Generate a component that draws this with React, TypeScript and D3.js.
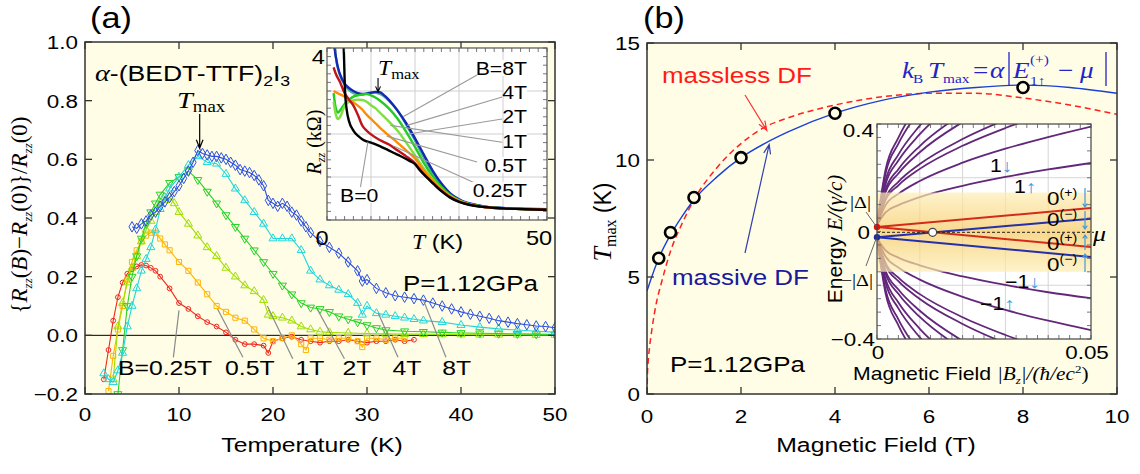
import * as d3 from 'd3';

const SANS = '"Liberation Sans", Arial, Helvetica, sans-serif';
const SERIF = '"Liberation Serif", "Times New Roman", serif';
const CREAM = '#fffde6';
const SX = 1.18; // lettering in the figure is drawn a little wide

// ---- (a) main: {R(B)-R(0)}/R(0) vs temperature, [T (K), value] ----
const dr025 = [[2,-0.15],[2.5,-0.05],[3,0.05],[3.5,0.13],[4,0.18],[4.5,0.21],[5,0.225],[5.5,0.235],[6,0.24],[6.5,0.238],[7,0.23],[7.5,0.22],[8,0.2],[9,0.16],[10,0.11],[11,0.09],[12,0.065],[13,0.045],[14,0.03],[15,0.01],[16,-0.015],[17,-0.03],[18,-0.03],[19,-0.035],[19.5,-0.06],[20,-0.02],[21,-0.01],[22,-0.005],[23,-0.015],[24,-0.02],[25,-0.025],[26,-0.02],[27,-0.02],[28,-0.015],[29,-0.02],[30,-0.025],[31,-0.02],[32,-0.02],[33,-0.015],[34,-0.02],[35,-0.015]];
const dr05 = [[2.5,-0.19],[3,-0.07],[3.5,0.02],[4,0.1],[4.5,0.19],[5,0.25],[5.5,0.29],[6,0.32],[6.5,0.34],[7,0.35],[7.5,0.35],[8,0.33],[8.5,0.31],[9,0.29],[10,0.25],[11,0.22],[12,0.18],[13,0.14],[14,0.1],[15,0.08],[16,0.06],[17,0.05],[18,0.02],[19,-0.01],[20,-0.02],[21,-0.01],[22,0],[23,-0.03],[23.5,-0.05],[24,-0.01],[25,-0.01],[26,-0.015],[27,-0.01],[28,-0.01],[29,-0.02],[29.5,-0.04],[30,-0.01],[31,-0.01],[32,-0.015],[33,-0.01],[34,-0.01]];
const dr1 = [[3,-0.15],[3.5,0.03],[4,0.11],[4.5,0.18],[5,0.23],[5.5,0.27],[6,0.32],[6.5,0.36],[7,0.39],[7.5,0.42],[8,0.45],[8.5,0.46],[9,0.47],[9.5,0.45],[10,0.42],[11,0.38],[12,0.34],[13,0.3],[14,0.27],[15,0.23],[16,0.2],[17,0.17],[18,0.15],[19,0.12],[19.5,0.07],[20,0.065],[21,0.06],[22,0.05],[23,0.03],[24,0.02],[25,0.012],[26,0.01],[28,0.008],[30,0.006],[32,0.005],[34,0.004],[36,0.004],[38,0.003],[40,0.003],[42,0.002],[44,0.002],[46,0.002],[48,0.001],[50,0.001]];
const dr2 = [[3.5,-0.2],[4,-0.05],[4.5,0.1],[5,0.2],[5.5,0.27],[6,0.33],[6.5,0.38],[7,0.42],[7.5,0.45],[8,0.48],[9,0.52],[10,0.54],[11,0.56],[12,0.53],[13,0.49],[14,0.45],[15,0.41],[16,0.37],[17,0.33],[18,0.29],[19,0.25],[20,0.21],[21,0.17],[22,0.14],[23,0.11],[24,0.095],[25,0.09],[26,0.08],[27,0.065],[28,0.055],[29,0.045],[30,0.035],[31,0.025],[32,0.018],[34,0.014],[36,0.012],[38,0.01],[40,0.008],[42,0.007],[44,0.006],[46,0.005],[48,0.004],[50,0.003]];
const dr4 = [[2,-0.13],[2.5,-0.15],[3,-0.16],[3.5,-0.12],[4,-0.06],[4.5,0.03],[5,0.1],[5.5,0.16],[6,0.22],[6.5,0.26],[7,0.3],[7.5,0.36],[8,0.43],[8.5,0.47],[9,0.5],[10,0.54],[11,0.58],[12,0.61],[13,0.59],[14,0.585],[15,0.55],[16,0.5],[17,0.46],[18,0.42],[19,0.38],[20,0.33],[21,0.33],[22,0.33],[23,0.29],[24,0.22],[25,0.19],[26,0.17],[27,0.155],[28,0.14],[29,0.11],[29.5,0.07],[30,0.1],[31,0.075],[32,0.07],[33,0.065],[34,0.06],[35,0.055],[36,0.05],[38,0.045],[40,0.035],[42,0.028],[44,0.022],[46,0.018],[48,0.014],[50,0.011]];
const dr8 = [[5,0.37],[5.5,0.365],[6,0.38],[6.5,0.39],[7,0.41],[7.5,0.42],[8,0.44],[8.5,0.455],[9,0.47],[9.5,0.49],[10,0.51],[10.5,0.535],[11,0.56],[11.5,0.59],[12,0.63],[12.5,0.62],[13,0.615],[13.5,0.61],[14,0.61],[14.5,0.605],[15,0.6],[15.5,0.59],[16,0.58],[16.5,0.565],[17,0.56],[17.5,0.555],[18,0.545],[18.5,0.53],[19,0.51],[19.5,0.46],[20,0.45],[20.5,0.44],[21,0.45],[21.5,0.44],[22,0.42],[22.5,0.41],[23,0.39],[23.5,0.37],[24,0.35],[25,0.32],[26,0.3],[27,0.28],[28,0.25],[29,0.22],[29.5,0.185],[30,0.19],[31,0.16],[32,0.145],[33,0.135],[34,0.13],[35,0.125],[36,0.12],[37,0.11],[38,0.1],[39,0.09],[40,0.08],[41,0.072],[42,0.065],[43,0.058],[44,0.05],[45,0.045],[46,0.04],[47,0.036],[48,0.032],[49,0.03],[50,0.026]];

const labelsA = ['B=0.25T', '0.5T', '1T', '2T', '4T', '8T'];
const labelTA = [3.5, 14.9, 22.4, 27.4, 32.7, 38];
const leaderFromA = [[9.4,-0.075],[16.8,-0.075],[22.1,-0.08],[27.6,-0.08],[33.3,-0.075],[38.4,-0.075]];
const leaderToA = [[10,0.085],[14.1,0.09],[19.4,0.1],[24.7,0.09],[31.2,0.075],[36,0.12]];

// ---- (a) inset: R_zz (kOhm) vs T ----
const rB0 = [[3.6,4.4],[3.8,4.0],[4.1,3.0],[4.5,2.55],[5,2.3],[6,2.08],[7,1.96],[8,1.88],[9,1.83],[10,1.8],[12,1.72],[14,1.62],[16,1.52],[18,1.42],[19,1.36],[20,1.3],[21,1.17],[22,1.06],[23,0.96],[24,0.86],[25,0.76],[26,0.67],[27,0.59],[28,0.52],[30,0.42],[32,0.36],[35,0.31],[40,0.27],[45,0.25],[50,0.24]];
const rB025 = [[1.5,3.55],[2,3.4],[3,3.2],[4,2.95],[5,2.8],[6,2.66],[7,2.45],[8,2.2],[9,2.08],[10,1.99],[12,1.86],[14,1.76],[16,1.62],[18,1.48],[20,1.32],[22,1.07],[24,0.87],[26,0.68],[28,0.53],[30,0.43],[35,0.31],[40,0.27],[50,0.24]];
const rB05 = [[1.5,3.0],[2,2.97],[3,2.92],[4,2.87],[5,2.8],[6,2.73],[7,2.66],[8,2.57],[9,2.45],[10,2.35],[11,2.25],[12,2.15],[14,1.97],[16,1.8],[18,1.62],[20,1.43],[22,1.15],[24,0.92],[26,0.71],[28,0.55],[30,0.44],[35,0.31],[40,0.27],[50,0.24]];
const rB1 = [[1.5,2.75],[2,2.45],[2.5,2.35],[3,2.4],[4,2.65],[5,2.75],[6,2.78],[7,2.8],[8,2.79],[9,2.75],[10,2.67],[11,2.6],[12,2.5],[14,2.3],[16,2.08],[18,1.8],[20,1.5],[22,1.2],[24,0.95],[26,0.72],[28,0.56],[30,0.45],[35,0.31],[40,0.27],[50,0.24]];
const rB2 = [[1.5,2.95],[2,2.6],[2.5,2.5],[3,2.55],[4,2.7],[5,2.8],[6,2.87],[7,2.9],[8,2.92],[9,2.93],[10,2.9],[11,2.85],[12,2.78],[14,2.6],[16,2.36],[18,2.05],[20,1.7],[22,1.33],[24,1.02],[26,0.77],[28,0.58],[30,0.46],[35,0.32],[40,0.27],[50,0.24]];
const rB4 = [[1.5,4.3],[2,3.8],[3,3.35],[4,3.15],[5,3.02],[6,2.95],[7,2.92],[8,2.92],[9,2.94],[10,2.96],[11,2.96],[12,2.93],[13,2.87],[14,2.78],[16,2.55],[18,2.22],[20,1.85],[22,1.45],[24,1.1],[26,0.82],[28,0.6],[30,0.47],[35,0.32],[40,0.27],[50,0.24]];
const rB8 = [[1.2,4.5],[1.5,4.2],[2,3.8],[2.6,3.5],[3,3.38],[4,3.17],[5,3.07],[6,3.0],[7,2.95],[8,2.93],[9,2.94],[10,2.96],[11,2.98],[12,2.97],[13,2.9],[14,2.8],[15,2.68],[16,2.55],[18,2.25],[20,1.9],[22,1.52],[24,1.15],[26,0.85],[28,0.62],[30,0.48],[35,0.33],[40,0.28],[50,0.25]];

const insetLabels = ['B=8T', '4T', '2T', '1T', '0.5T', '0.25T', 'B=0'];
const insetLeaderFrom = [[34.1,3.37],[39.8,2.86],[39.8,2.35],[39.8,1.81],[34.1,1.35],[33.6,0.86],[7.5,0.7]];
const insetLeaderTo = [[17.3,2.4],[18.2,2.2],[18.5,2.0],[14.4,2.2],[13.6,1.95],[15.1,1.72],[9.3,1.82]];

// ---- (b) main: Tmax vs B ----
const fieldPts = [0.25, 0.5, 1, 2, 4, 8];
const tmaxPts = [5.8, 6.9, 8.4, 10.1, 12.0, 13.1];
const massiveField = [0, 0.1, 0.25, 0.5, 0.75, 1, 1.5, 2, 2.5, 3, 4, 5, 6, 7, 8, 9, 10];
const massiveT = [4.4, 5.0, 5.8, 6.8, 7.6, 8.3, 9.3, 10.1, 10.7, 11.2, 12.0, 12.55, 12.9, 13.1, 13.2, 13.1, 12.85];
const masslessField = [0, 0.01, 0.03, 0.06, 0.1, 0.2, 0.3, 0.5, 0.75, 1, 1.5, 2, 2.5, 3, 4, 5, 6, 7, 8, 9, 10];
const masslessT = [0, 0.85, 1.5, 2.1, 2.7, 3.9, 4.7, 6.1, 7.3, 8.3, 9.7, 10.7, 11.4, 11.8, 12.35, 12.7, 12.85, 12.85, 12.65, 12.35, 11.95];

// ---- (b) inset: Landau levels, energy at each field of llField ----
const llField = [0, 0.002, 0.005, 0.01, 0.02, 0.03, 0.04, 0.05];
const llUpper = [
  [0.025, 0.071, 0.098, 0.128, 0.17, 0.203, 0.231, 0.255],
  [0.025, 0.098, 0.14, 0.188, 0.256, 0.308, 0.351, 0.39],
  [0.025, 0.118, 0.172, 0.233, 0.319, 0.385, 0.441, 0.49],
  [0.025, 0.126, 0.185, 0.251, 0.344, 0.416, 0.476, 0.53],
  [0.025, 0.146, 0.216, 0.295, 0.407, 0.494, 0.566, 0.63],
  [0.025, 0.156, 0.232, 0.318, 0.439, 0.533, 0.611, 0.68],
  [0.025, 0.176, 0.264, 0.362, 0.502, 0.61, 0.7, 0.78],
  [0.025, 0.19, 0.286, 0.394, 0.546, 0.664, 0.763, 0.85],
  [0.025, 0.216, 0.327, 0.452, 0.629, 0.765, 0.879, 0.98],
  [0.025, 0.23, 0.349, 0.483, 0.673, 0.819, 0.941, 1.05],
];
const llLower = [
  [-0.025, -0.07, -0.097, -0.126, -0.167, -0.199, -0.226, -0.248],
  [-0.025, -0.093, -0.134, -0.179, -0.243, -0.292, -0.332, -0.367],
  [-0.025, -0.118, -0.172, -0.233, -0.319, -0.385, -0.441, -0.49],
  [-0.025, -0.126, -0.185, -0.251, -0.344, -0.416, -0.476, -0.53],
  [-0.025, -0.146, -0.216, -0.295, -0.407, -0.494, -0.566, -0.63],
  [-0.025, -0.156, -0.232, -0.318, -0.439, -0.533, -0.611, -0.68],
  [-0.025, -0.176, -0.264, -0.362, -0.502, -0.61, -0.7, -0.78],
  [-0.025, -0.19, -0.286, -0.394, -0.546, -0.664, -0.763, -0.85],
  [-0.025, -0.216, -0.327, -0.452, -0.629, -0.765, -0.879, -0.98],
  [-0.025, -0.23, -0.349, -0.483, -0.673, -0.819, -0.941, -1.05],
];
const zmField = [0, 0.05];
const zmPlusDown = [0.017, 0.087];
const zmMinusDown = [-0.021, 0.047];
const zmPlusUp = [0.017, -0.058];
const zmMinusUp = [-0.021, -0.095];
const crossing = [0.013, -0.003];
const muLevel = -0.003;
const bandRange = [-0.15, 0.145];

// ticks
const aTicksX = [0, 10, 20, 30, 40, 50];
const aTicksY = [-0.2, 0, 0.2, 0.4, 0.6, 0.8, 1.0];
const bTicksX = [0, 2, 4, 6, 8, 10];
const bTicksY = [0, 5, 10, 15];

// scales
const xA = d3.scaleLinear().domain([0, 50]).range([85, 555]);
const yA = d3.scaleLinear().domain([-0.2, 1.0]).range([394, 42]);
const xIa = d3.scaleLinear().domain([0, 50]).range([327, 547]);
const yIa = d3.scaleLinear().domain([0, 4]).range([220, 48]);
const xB = d3.scaleLinear().domain([0, 10]).range([647, 1117]);
const yB = d3.scaleLinear().domain([0, 15]).range([394, 43]);
const xIb = d3.scaleLinear().domain([0, 0.05]).range([877, 1091]);
const yIb = d3.scaleLinear().domain([-0.4, 0.4]).range([339, 124]);

const sym: Record<string, string> = {
  circle: d3.symbol(d3.symbolCircle, 18)() as string,
  square: d3.symbol(d3.symbolSquare, 26)() as string,
  triUp: d3.symbol(d3.symbolTriangle, 28)() as string,
  triDown: d3.symbol(d3.symbolTriangle, 28)() as string,
  diamond: d3.symbol(d3.symbolDiamond, 32)() as string,
};

const seriesA = [
  { data: dr025, color: '#f0281e', marker: 'circle' },
  { data: dr05, color: '#ffb400', marker: 'square' },
  { data: dr1, color: '#9ee000', marker: 'triUp' },
  { data: dr2, color: '#28d228', marker: 'triDown' },
  { data: dr4, color: '#20d6dc', marker: 'triUp' },
  { data: dr8, color: '#2c50e0', marker: 'diamond' },
];

const insetSeries = [
  { data: rB4, color: '#4fb39c' },
  { data: rB8, color: '#1428b4' },
  { data: rB2, color: '#22cc22' },
  { data: rB1, color: '#7ee040' },
  { data: rB05, color: '#ff8c00' },
  { data: rB025, color: '#c0141c' },
  { data: rB0, color: '#000000' },
];

function arrowPath(x1: number, y1: number, x2: number, y2: number, head = 8, spread = 0.42) {
  const a = Math.atan2(y2 - y1, x2 - x1);
  const p1 = [x2 - head * Math.cos(a - spread), y2 - head * Math.sin(a - spread)];
  const p2 = [x2 - head * Math.cos(a + spread), y2 - head * Math.sin(a + spread)];
  return `M${x1},${y1}L${x2},${y2}M${p1[0]},${p1[1]}L${x2},${y2}L${p2[0]},${p2[1]}`;
}

// stretched text helper
function Tx({ x, y, size = 19, anchor = 'start', fill = '#000', family = SANS, italic = false, children }: any) {
  return (
    <text transform={`translate(${x},${y}) scale(${SX},1)`} fontSize={size} textAnchor={anchor}
      fill={fill} fontFamily={family} fontStyle={italic ? 'italic' : 'normal'}>
      {children}
    </text>
  );
}

export default function App() {
  const lineA = d3.line<number[]>().x(d => xA(d[0])).y(d => yA(d[1]));
  const lineIa = d3.line<number[]>().x(d => xIa(d[0])).y(d => yIa(d[1])).curve(d3.curveMonotoneX);
  const lineB = d3.line<number[]>().x(d => xB(d[0])).y(d => yB(d[1])).curve(d3.curveMonotoneX);
  const lineLL = d3.line<number>().x((_, i) => xIb(llField[i])).y(d => yIb(d)).curve(d3.curveMonotoneX);
  const lineZM = d3.line<number>().x((_, i) => xIb(zmField[i])).y(d => yIb(d));
  const fmtA = d3.format('.1f');

  const massive = d3.zip(massiveField, massiveT);
  const massless = d3.zip(masslessField, masslessT);

  const iaGridX = [10, 20, 30, 40];
  const iaGridY = [1, 2, 3];
  const iaMinorX = d3.range(0, 51, 2);
  const iaMinorY = d3.range(0, 4.01, 0.2);
  const ibGridX = [0.01, 0.02, 0.03, 0.04];
  const ibGridY = [-0.2, 0.2];
  const ibMinorX = d3.range(0, 0.0501, 0.0025);
  const ibMinorY = d3.range(-0.4, 0.401, 0.05);
  const spinArrow = '#3d9be0';
  const blueF = '#2424c8';

  return (
    <svg width={1140} height={474} style={{ position: 'absolute', left: 0, top: 0, background: '#fff' }}>
      <defs>
        <clipPath id="clipA"><rect x={85} y={42} width={470} height={352} /></clipPath>
        <clipPath id="clipIa"><rect x={327} y={48} width={220} height={172} /></clipPath>
        <clipPath id="clipB"><rect x={647} y={43} width={470} height={351} /></clipPath>
        <clipPath id="clipIb"><rect x={877} y={124} width={214} height={215} /></clipPath>
        <linearGradient id="band" x1="0" y1="0" x2="0" y2="1">
          <stop offset="0%" stopColor="#fdeeb4" />
          <stop offset="50%" stopColor="#f6c85e" />
          <stop offset="100%" stopColor="#fdeeb4" />
        </linearGradient>
      </defs>

      {/* ================= panel (a) ================= */}
      <rect x={85} y={42} width={470} height={352} fill={CREAM} />
      <line x1={85} x2={555} y1={yA(0)} y2={yA(0)} stroke="#000" strokeWidth={1} />
      <g clipPath="url(#clipA)">
        {seriesA.map((s, k) => (
          <g key={k}>
            <path d={lineA(s.data as any) as string} fill="none" stroke={s.color} strokeWidth={1.1} />
            {s.data.map((d, i) => (
              <path key={i} d={sym[s.marker]} fill="none" stroke={s.color} strokeWidth={1}
                transform={`translate(${xA(d[0])},${yA(d[1])})${s.marker === 'triDown' ? ' rotate(180)' : ''}`} />
            ))}
          </g>
        ))}
      </g>
      {/* field labels with leaders */}
      {labelsA.map((lab, i) => (
        <g key={lab}>
          <line x1={xA(leaderFromA[i][0])} y1={yA(leaderFromA[i][1])} x2={xA(leaderToA[i][0])} y2={yA(leaderToA[i][1])}
            stroke="#8a8a8a" strokeWidth={1.2} />
          <Tx x={xA(labelTA[i])} y={yA(-0.135)} size={21}>{lab}</Tx>
        </g>
      ))}
      <Tx x={403} y={291} size={22}>P=1.12GPa</Tx>
      <Tx x={95} y={81} size={22.5}>
        <tspan fontFamily={SERIF} fontStyle="italic" fontSize={24}>α</tspan>-(BEDT-TTF)
        <tspan fontSize={15} dy={5}>2</tspan><tspan dy={-5}>I</tspan><tspan fontSize={15} dy={5}>3</tspan>
      </Tx>
      <Tx x={177} y={108} size={24} family={SERIF} italic>T<tspan fontStyle="normal" fontSize={16} dy={4}>max</tspan></Tx>
      <path d={arrowPath(xA(12.2), 114, xA(12.2), yA(0.635) - 1, 9, 0.38)} fill="none" stroke="#000" strokeWidth={1.2} />

      {/* frame + ticks (a) */}
      <rect x={85} y={42} width={470} height={352} fill="none" stroke="#333" strokeWidth={1.5} />
      {aTicksX.map(t => (
        <g key={t}>
          <line x1={xA(t)} x2={xA(t)} y1={394} y2={387} stroke="#333" strokeWidth={1.3} />
          <line x1={xA(t)} x2={xA(t)} y1={42} y2={49} stroke="#333" strokeWidth={1.3} />
          <Tx x={xA(t)} y={421} size={19} anchor="middle">{t}</Tx>
        </g>
      ))}
      {aTicksY.map(v => (
        <g key={v}>
          <line x1={85} x2={92} y1={yA(v)} y2={yA(v)} stroke="#333" strokeWidth={1.3} />
          <line x1={555} x2={548} y1={yA(v)} y2={yA(v)} stroke="#333" strokeWidth={1.3} />
          <Tx x={78} y={yA(v) + 7} size={19} anchor="end">{fmtA(v)}</Tx>
        </g>
      ))}
      <Tx x={312} y={452} size={21} anchor="middle">Temperature<tspan dx={8}>(K)</tspan></Tx>
      <text transform="translate(27,215) rotate(-90)" textAnchor="middle" fontFamily={SERIF} fontSize={23}>
        {'{'}<tspan fontStyle="italic">R</tspan><tspan fontStyle="italic" fontSize={13} dy={5}>zz</tspan>
        <tspan dy={-5}>(</tspan><tspan fontStyle="italic">B</tspan>)−<tspan fontStyle="italic">R</tspan>
        <tspan fontStyle="italic" fontSize={13} dy={5}>zz</tspan><tspan dy={-5}>(0){'}'}/</tspan>
        <tspan fontStyle="italic">R</tspan><tspan fontStyle="italic" fontSize={13} dy={5}>zz</tspan>
        <tspan dy={-5}>(0)</tspan>
      </text>
      <Tx x={90} y={28} size={29}>(a)</Tx>

      {/* ---- inset (a) ---- */}
      <rect x={327} y={48} width={220} height={172} fill="#fff" />
      {iaGridX.map(t => <line key={t} x1={xIa(t)} x2={xIa(t)} y1={48} y2={220} stroke="#cfcfcf" strokeWidth={1} />)}
      {iaGridY.map(r => <line key={r} x1={327} x2={547} y1={yIa(r)} y2={yIa(r)} stroke="#cfcfcf" strokeWidth={1} />)}
      <g clipPath="url(#clipIa)">
        {insetSeries.map((s, k) => (
          <path key={k} d={lineIa(s.data as any) as string} fill="none" stroke={s.color} strokeWidth={2.4} />
        ))}
      </g>
      {insetLabels.map((lab, i) => (
        <line key={lab} x1={xIa(insetLeaderFrom[i][0])} y1={yIa(insetLeaderFrom[i][1])}
          x2={xIa(insetLeaderTo[i][0])} y2={yIa(insetLeaderTo[i][1])} stroke="#9a9a9a" strokeWidth={1.1} />
      ))}
      {insetLabels.slice(0, 6).map((lab, i) => (
        <g key={lab}>
          <rect x={527 - lab.length * 11.5} y={[60, 84, 108, 133, 157, 182][i]} width={lab.length * 11.5} height={16} fill="#fff" />
          <Tx x={527} y={[75, 99, 123, 148, 172, 197][i]} size={18} anchor="end">{lab}</Tx>
        </g>
      ))}
      <rect x={339} y={187} width={41} height={16} fill="#fff" />
      <Tx x={340} y={202} size={18}>{insetLabels[6]}</Tx>
      <Tx x={378} y={75} size={20} family={SERIF} italic>T<tspan fontStyle="normal" fontSize={14} dy={4}>max</tspan></Tx>
      <path d={arrowPath(xIa(11.6), 78, xIa(11.6), yIa(2.98), 6, 0.42)} fill="none" stroke="#000" strokeWidth={1.1} />
      <rect x={327} y={48} width={220} height={172} fill="none" stroke="#555" strokeWidth={1.2} />
      {iaMinorX.map(t => (
        <g key={t}>
          <line x1={xIa(t)} x2={xIa(t)} y1={220} y2={216} stroke="#555" strokeWidth={0.8} />
          <line x1={xIa(t)} x2={xIa(t)} y1={48} y2={52} stroke="#555" strokeWidth={0.8} />
        </g>
      ))}
      {iaMinorY.map(r => (
        <g key={r}>
          <line x1={327} x2={331} y1={yIa(r)} y2={yIa(r)} stroke="#555" strokeWidth={0.8} />
          <line x1={547} x2={543} y1={yIa(r)} y2={yIa(r)} stroke="#555" strokeWidth={0.8} />
        </g>
      ))}
      <Tx x={325} y={64} size={20} anchor="end">4</Tx>
      <Tx x={322} y={245} size={20} anchor="middle">0</Tx>
      <Tx x={539} y={245} size={20} anchor="middle">50</Tx>
      <Tx x={412} y={249} size={20} family={SERIF} italic>T<tspan fontFamily={SANS} fontStyle="normal"> (K)</tspan></Tx>
      <text transform="translate(321,142) rotate(-90)" textAnchor="middle" fontFamily={SERIF} fontSize={20}>
        <tspan fontStyle="italic">R</tspan><tspan fontStyle="italic" fontSize={12} dy={4}>zz</tspan>
        <tspan dy={-4}> (kΩ)</tspan>
      </text>

      {/* ================= panel (b) ================= */}
      <rect x={647} y={43} width={470} height={351} fill={CREAM} />
      <g clipPath="url(#clipB)">
        <path d={lineB(massless as any) as string} fill="none" stroke="#ff2020" strokeWidth={1.5} strokeDasharray="6,4" />
        <path d={lineB(massive as any) as string} fill="none" stroke="#1a40d8" strokeWidth={1.4} />
        {fieldPts.map((b, i) => (
          <circle key={b} cx={xB(b)} cy={yB(tmaxPts[i])} r={5.5} fill={CREAM} stroke="#000" strokeWidth={2.6} />
        ))}
      </g>
      <Tx x={662} y={83} size={22} fill="#ff1a1a">massless DF</Tx>
      <path d={arrowPath(745, 95, xB(2.55), yB(11.35) + 2, 10, 0.35)} fill="none" stroke="#ff3030" strokeWidth={1.2} />
      <Tx x={672} y={285} size={22} fill="#1a1a9c">massive DF</Tx>
      <path d={arrowPath(745, 253, xB(2.6), yB(10.75) + 2, 10, 0.35)} fill="none" stroke="#3040b0" strokeWidth={1.2} />
      <Tx x={670} y={372} size={22}>P=1.12GPa</Tx>

      {/* formula k_B T_max = alpha |E_1up^(+) - mu| */}
      <Tx x={902} y={78} size={23} family={SERIF} italic fill={blueF}>k</Tx>
      <Tx x={913} y={83} size={13} family={SERIF} fill={blueF}>B</Tx>
      <Tx x={928} y={78} size={23} family={SERIF} italic fill={blueF}>T</Tx>
      <Tx x={943} y={83} size={13} family={SERIF} fill={blueF}>max</Tx>
      <Tx x={973} y={78} size={23} family={SERIF} fill={blueF}>=</Tx>
      <Tx x={990} y={78} size={23} family={SERIF} italic fill={blueF}>α</Tx>
      <line x1={1009} x2={1009} y1={52} y2={86} stroke={blueF} strokeWidth={1.3} />
      <Tx x={1013} y={78} size={23} family={SERIF} italic fill={blueF}>E</Tx>
      <Tx x={1030} y={64} size={13} family={SERIF} fill={blueF}>(+)</Tx>
      <Tx x={1030} y={85} size={13} family={SERIF} fill={blueF}>1↑</Tx>
      <Tx x={1058} y={78} size={23} family={SERIF} fill={blueF}>−</Tx>
      <Tx x={1080} y={78} size={23} family={SERIF} italic fill={blueF}>μ</Tx>
      <line x1={1106} x2={1106} y1={52} y2={86} stroke={blueF} strokeWidth={1.3} />

      {/* frame + ticks (b) */}
      <rect x={647} y={43} width={470} height={351} fill="none" stroke="#333" strokeWidth={1.5} />
      {bTicksX.map(b => (
        <g key={b}>
          <line x1={xB(b)} x2={xB(b)} y1={394} y2={387} stroke="#333" strokeWidth={1.3} />
          <line x1={xB(b)} x2={xB(b)} y1={43} y2={50} stroke="#333" strokeWidth={1.3} />
          <Tx x={xB(b)} y={423} size={19} anchor="middle">{b}</Tx>
        </g>
      ))}
      {bTicksY.map(t => (
        <g key={t}>
          <line x1={647} x2={654} y1={yB(t)} y2={yB(t)} stroke="#333" strokeWidth={1.3} />
          <line x1={1117} x2={1110} y1={yB(t)} y2={yB(t)} stroke="#333" strokeWidth={1.3} />
          <Tx x={640} y={yB(t) + 7} size={19} anchor="end">{t}</Tx>
        </g>
      ))}
      <Tx x={876} y={452} size={21} anchor="middle">Magnetic Field (T)</Tx>
      <text transform="translate(611,222) rotate(-90)" textAnchor="middle" fontSize={23} fontFamily={SANS}>
        <tspan fontFamily={SERIF} fontStyle="italic" fontSize={26}>T</tspan>
        <tspan fontFamily={SERIF} fontSize={16} dy={5}>max</tspan><tspan dy={-5}> (K)</tspan>
      </text>
      <Tx x={643} y={28} size={29}>(b)</Tx>

      {/* ---- inset (b) ---- */}
      <rect x={877} y={124} width={214} height={215} fill="#fff" />
      {ibGridX.map(b => <line key={b} x1={xIb(b)} x2={xIb(b)} y1={124} y2={339} stroke="#d6d6d6" strokeWidth={1} />)}
      {ibGridY.map(e => <line key={e} x1={877} x2={1091} y1={yIb(e)} y2={yIb(e)} stroke="#d6d6d6" strokeWidth={1} />)}
      <g clipPath="url(#clipIb)">
        {llUpper.concat(llLower).map((lv, k) => (
          <path key={k} d={lineLL(lv) as string} fill="none" stroke="#62277a" strokeWidth={1.8} />
        ))}
        <rect x={877} y={yIb(bandRange[1])} width={214} height={yIb(bandRange[0]) - yIb(bandRange[1])}
          fill="url(#band)" opacity={0.7} />
        <path d={lineZM(zmMinusDown) as string} stroke="#2530a8" strokeWidth={2} fill="none" />
        <path d={lineZM(zmMinusUp) as string} stroke="#2530a8" strokeWidth={2} fill="none" />
        <path d={lineZM(zmPlusDown) as string} stroke="#d42a1a" strokeWidth={2} fill="none" />
        <path d={lineZM(zmPlusUp) as string} stroke="#d42a1a" strokeWidth={2} fill="none" />
      </g>
      <line x1={877} x2={1094} y1={yIb(muLevel)} y2={yIb(muLevel)} stroke="#222" strokeWidth={1} strokeDasharray="3,2" />
      <circle cx={xIb(crossing[0])} cy={yIb(crossing[1])} r={4} fill="#fff" stroke="#444" strokeWidth={1.2} />
      <circle cx={xIb(0)} cy={yIb(zmPlusDown[0])} r={3.2} fill="#e01010" />
      <circle cx={xIb(0)} cy={yIb(zmMinusDown[0])} r={3.2} fill="#1a2aa8" />
      <rect x={877} y={124} width={214} height={215} fill="none" stroke="#444" strokeWidth={1.2} />
      {ibMinorX.map((b, i) => (
        <g key={i}>
          <line x1={xIb(b)} x2={xIb(b)} y1={339} y2={335} stroke="#555" strokeWidth={0.8} />
          <line x1={xIb(b)} x2={xIb(b)} y1={124} y2={128} stroke="#555" strokeWidth={0.8} />
        </g>
      ))}
      {ibMinorY.map((e, i) => (
        <g key={i}>
          <line x1={877} x2={881} y1={yIb(e)} y2={yIb(e)} stroke="#555" strokeWidth={0.8} />
          <line x1={1091} x2={1087} y1={yIb(e)} y2={yIb(e)} stroke="#555" strokeWidth={0.8} />
        </g>
      ))}
      {/* level labels */}
      <Tx x={990} y={172} size={18}>1<tspan fill={spinArrow}>↓</tspan></Tx>
      <Tx x={1014} y={193} size={18}>1<tspan fill={spinArrow}>↑</tspan></Tx>
      <Tx x={1005} y={288} size={18}>−1<tspan fill={spinArrow}>↓</tspan></Tx>
      <Tx x={980} y={310} size={18}>−1<tspan fill={spinArrow}>↑</tspan></Tx>
      {['(+)', '(−)', '(+)', '(−)'].map((s, i) => (
        <Tx key={i} x={1047} y={[205, 226, 250, 271][i]} size={19}>0<tspan fontSize={12} dy={-8}>{s}</tspan></Tx>
      ))}
      <path d={arrowPath(1085, 188, 1085, 207, 4, 0.6)} stroke={spinArrow} strokeWidth={1.2} fill="none" />
      <path d={arrowPath(1085, 211, 1085, 229, 4, 0.6)} stroke={spinArrow} strokeWidth={1.2} fill="none" />
      <path d={arrowPath(1085, 250, 1085, 235, 4, 0.6)} stroke={spinArrow} strokeWidth={1.2} fill="none" />
      <path d={arrowPath(1085, 272, 1085, 254, 4, 0.6)} stroke={spinArrow} strokeWidth={1.2} fill="none" />
      <Tx x={1093} y={241} size={22} family={SERIF} italic>μ</Tx>
      {/* delta labels */}
      <line x1={866} y1={212} x2={876} y2={226} stroke="#666" strokeWidth={1} />
      <line x1={866} y1={266} x2={876} y2={239} stroke="#666" strokeWidth={1} />
      <Tx x={871} y={208} size={17} anchor="end" family={SERIF}>|Δ|</Tx>
      <Tx x={873} y={286} size={17} anchor="end" family={SERIF}>−|Δ|</Tx>
      <Tx x={874} y={137} size={19} anchor="end">0.4</Tx>
      <Tx x={870} y={239} size={19} anchor="end">0</Tx>
      <Tx x={875} y={346} size={19} anchor="end">−0.4</Tx>
      <Tx x={878} y={359} size={19} anchor="middle">0</Tx>
      <Tx x={1087} y={359} size={19} anchor="middle">0.05</Tx>
      <Tx x={853} y={380} size={18}>
        Magnetic Field <tspan fontFamily={SERIF} fontStyle="italic">|B</tspan>
        <tspan fontFamily={SERIF} fontStyle="italic" fontSize={11} dy={4}>z</tspan>
        <tspan fontFamily={SERIF} fontStyle="italic" dy={-4}>|/(ħ/ec</tspan>
        <tspan fontFamily={SERIF} fontSize={11} dy={-7}>2</tspan>
        <tspan fontFamily={SERIF} dy={7}>)</tspan>
      </Tx>
      <text transform="translate(842,239) rotate(-90)" textAnchor="middle" fontSize={21} fontFamily={SANS}>
        Energy <tspan fontFamily={SERIF} fontStyle="italic">E/(γ/c)</tspan>
      </text>
    </svg>
  );
}
